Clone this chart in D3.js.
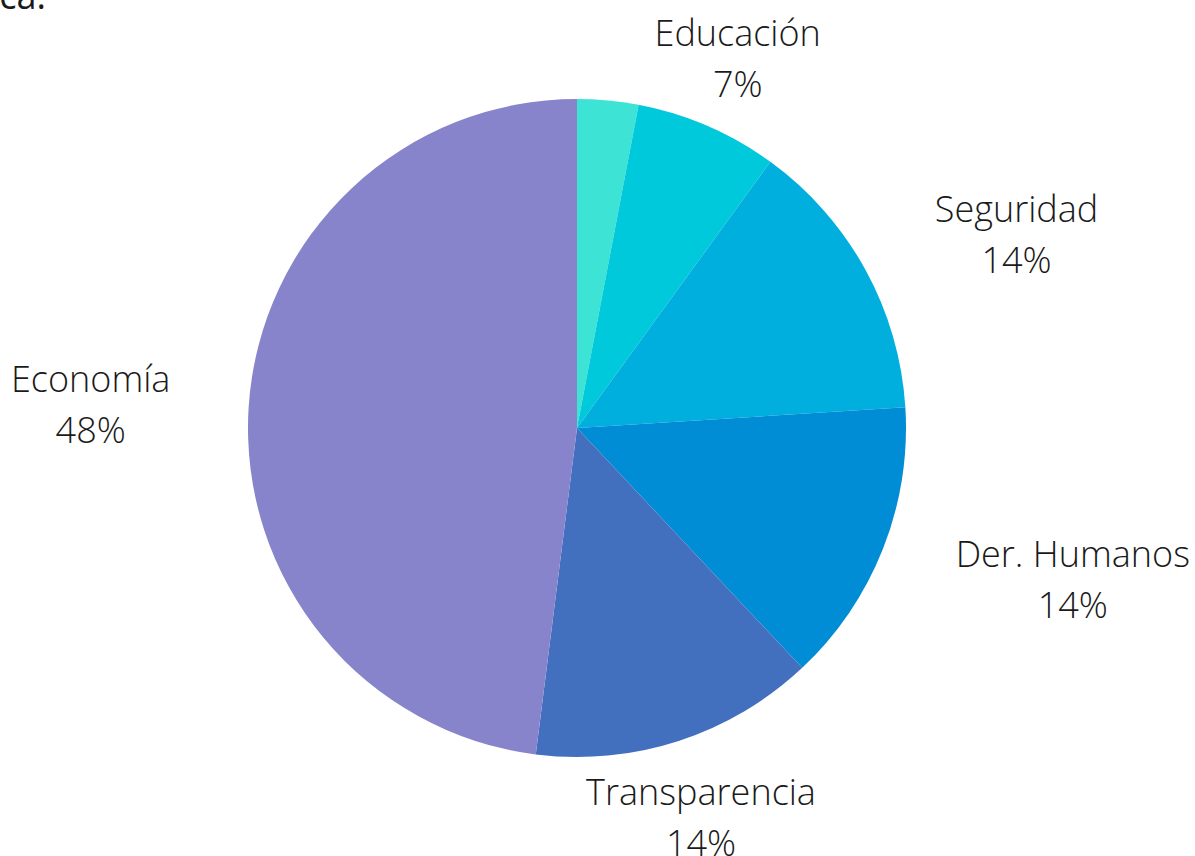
<!DOCTYPE html>
<html>
<head>
<meta charset="utf-8">
<script src="https://cdn.jsdelivr.net/npm/d3@7"></script>
<style>
  body { margin: 0; background: #fff; }
  text { font-family: "Open Sans", sans-serif; font-weight: 300; fill: #1a1a1a; }
</style>
</head>
<body>
<div id="chart"></div>
<script>
// Data (percent)
const categories = ["Otros", "Educación", "Seguridad", "Der. Humanos", "Transparencia", "Economía"];
const values = [3, 7, 14, 14, 14, 48];
const showLabel = [false, true, true, true, true, true];
const colors = ["#3de3d5", "#00c9dc", "#00afdd", "#008dd5", "#436fbf", "#8784cb"];

// label placement: distance (in radii) and small angle nudge (deg)
const labelDist = [1.3, 1.225, 1.46, 1.575, 1.24, 1.48];
const labelNudge = [0, 0.1, 5, -4.7, 0.3, -0.8];

const width = 1195, height = 856;
const cx = 577, cy = 428, radius = 329;

const svg = d3.select("#chart").append("svg")
  .attr("width", width)
  .attr("height", height);

// clipped title at top-left
svg.append("text")
  .attr("x", 46)
  .attr("y", 9)
  .attr("text-anchor", "end")
  .style("font-size", "36px")
  .style("font-weight", 400)
  .text("Temática.");

const total = d3.sum(values);
const data = categories.map((c, i) => ({ name: c, value: values[i], i }));

const pie = d3.pie().value(d => d.value).sort(null);
const arc = d3.arc().innerRadius(0).outerRadius(radius);

const g = svg.append("g").attr("transform", `translate(${cx},${cy})`);
const arcs = pie(data);

g.selectAll("path")
  .data(arcs)
  .enter()
  .append("path")
  .attr("d", arc)
  .attr("fill", d => colors[d.data.i]);

// labels
const labels = g.selectAll("text.lbl")
  .data(arcs.filter(d => showLabel[d.data.i]))
  .enter()
  .append("text")
  .attr("class", "lbl")
  .attr("text-anchor", "middle")
  .style("font-size", "36px")
  .attr("transform", d => {
    const a = (d.startAngle + d.endAngle) / 2 + labelNudge[d.data.i] * Math.PI / 180;
    const r = radius * labelDist[d.data.i];
    const x = Math.sin(a) * r;
    const y = -Math.cos(a) * r;
    return `translate(${x},${y})`;
  });

labels.append("tspan")
  .attr("x", 0)
  .attr("y", -12)
  .text(d => d.data.name);

labels.append("tspan")
  .attr("x", 0)
  .attr("y", 39)
  .text(d => Math.round(d.data.value / total * 100) + "%");
</script>
</body>
</html>
